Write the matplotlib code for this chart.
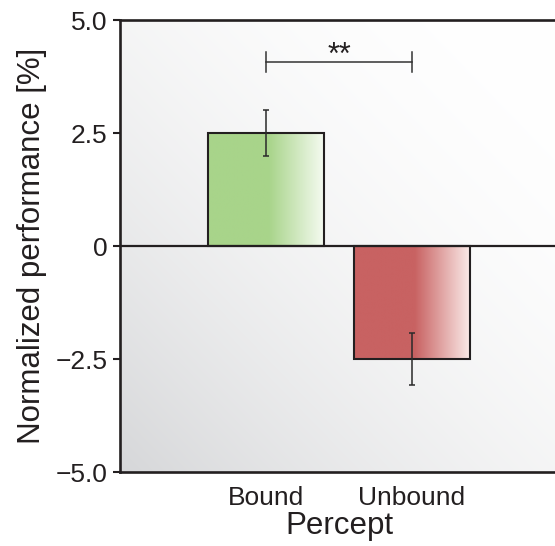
import numpy as np
import matplotlib
matplotlib.use("Agg")
import matplotlib.pyplot as plt
from matplotlib.patches import Rectangle

plt.rcParams['font.family'] = ['Liberation Sans', 'DejaVu Sans']

# Data
categories = ["Bound", "Unbound"]
means = [2.5, -2.5]
sems = [0.5, 0.58]
bar_colors = [(168, 212, 138), (200, 98, 98)]
end_colors = [(246, 251, 242), (251, 236, 234)]
yticks = [-5.0, -2.5, 0, 2.5, 5.0]
ytick_labels = ["\u22125.0", "\u22122.5", "0", "2.5", "5.0"]
sig_pair = (0, 1)
sig_level = 4.07
sig_text = "**"


def bar_gradient(c0, c1, n=200, solid=0.52):
    """ Horizontal gradient: solid colour on the left, fading toward c1 on the right. """
    t = np.linspace(0, 1, n)
    f = np.clip((t - solid) / (1 - solid), 0, 1)
    c0 = np.array(c0) / 255.0
    c1 = np.array(c1) / 255.0
    rgb = c0[None, :] * (1 - f[:, None]) + c1[None, :] * f[:, None]
    return rgb[None, :, :]


fig = plt.figure(figsize=(5.55, 5.46), dpi=100)
ax = fig.add_axes([0.2162, 0.1355, 0.789, 0.8278])

# Diagonal background: grey at lower-left, white at upper-right
gx, gy = np.meshgrid(np.linspace(0, 1, 300), np.linspace(0, 1, 300))
dark = (((1 - gx) + (1 - gy)) / 2) ** 2
lo = np.array([214, 215, 217]) / 255.0
bg = 1 - dark[..., None] * (1 - lo[None, None, :])
ax.imshow(bg, extent=[0, 1, 0, 1], transform=ax.transAxes, origin="lower",
          aspect="auto", zorder=0, interpolation="bilinear")

xpos = np.arange(len(categories)) + 1
width = 0.8
for x, m, e, c0, c1 in zip(xpos, means, sems, bar_colors, end_colors):
    left = x - width / 2
    bottom, top = min(0, m), max(0, m)
    ax.imshow(bar_gradient(c0, c1), extent=[left, left + width, bottom, top],
              aspect="auto", zorder=1, interpolation="bilinear")
    ax.add_patch(Rectangle((left, bottom), width, top - bottom, facecolor="none",
                           edgecolor="#231f20", linewidth=1.5, zorder=2))
    ax.errorbar(x, m, yerr=e, color="#2a2a2a", elinewidth=1.1, capsize=2,
                capthick=1.1, zorder=3)

ax.axhline(0, color="#231f20", linewidth=1.6, zorder=2)

# Significance bracket
x1, x2 = xpos[sig_pair[0]], xpos[sig_pair[1]]
ax.plot([x1, x2], [sig_level, sig_level], color="#333333", linewidth=1.1, zorder=3)
ax.plot([x1, x1], [sig_level - 0.23, sig_level + 0.23], color="#333333", linewidth=1.1, zorder=3)
ax.plot([x2, x2], [sig_level - 0.23, sig_level + 0.23], color="#333333", linewidth=1.1, zorder=3)
ax.text((x1 + x2) / 2, 4.2, sig_text, ha="center", va="center",
        fontsize=22, color="#231f20")

ax.set_xlim(0, 3)
ax.set_ylim(-5, 5)
ax.set_xticks(xpos)
ax.set_xticklabels(categories, fontsize=19, color="#231f20")
ax.tick_params(axis="x", length=0, pad=10)
ax.set_yticks(yticks)
ax.set_yticklabels(ytick_labels, fontsize=19, color="#231f20")
ax.tick_params(axis="y", length=5, width=1.5, color="#231f20", pad=4)
ax.set_xlabel("Percept", fontsize=22.5, color="#231f20", labelpad=1)
ax.set_ylabel("Normalized performance [%]", fontsize=22.5, color="#231f20", labelpad=6)

for side in ["left", "top", "bottom"]:
    ax.spines[side].set_linewidth(1.9)
    ax.spines[side].set_color("#231f20")
ax.spines["right"].set_visible(False)

fig.savefig("out.png", dpi=100)
